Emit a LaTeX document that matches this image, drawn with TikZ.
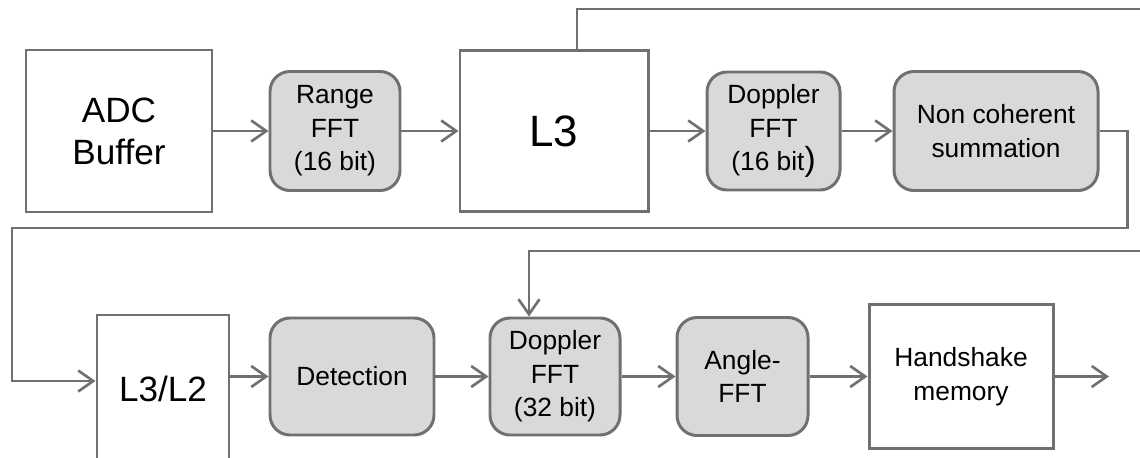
\documentclass[tikz,border=0pt]{standalone}
\usepackage{fontspec}
\setmainfont{Liberation Sans}
\usetikzlibrary{positioning,arrows.meta}

\definecolor{boxgray}{RGB}{217,217,217}
\definecolor{linegray}{RGB}{112,112,112}

\tikzset{
  mem/.style={draw=linegray, line width=1.7pt, fill=white, inner sep=0pt, align=center},
  proc/.style={draw=linegray, line width=1.7pt, fill=boxgray, rounded corners=0.4cm,
    inner sep=0pt, align=center, font=\fontsize{15}{19}\selectfont},
  link/.style={draw=linegray, line width=1.5pt},
}

\begin{document}
\begin{tikzpicture}[>={Straight Barb[length=3mm,width=4.2mm]}]
  \useasboundingbox (0,0) rectangle (22.8,9.14);
  \clip (0,0) rectangle (22.8,9.14);
  % upper chain
  \node[mem, minimum width=3.72cm, minimum height=3.24cm, font=\fontsize{20}{24}\selectfont] (adc) at (2.38,6.52) {ADC\\Buffer};
  \node[proc, minimum width=2.6cm, minimum height=2.38cm] (range) at (6.70,6.52) {Range\\FFT\\(16 bit)};
  \node[mem, minimum width=3.76cm, minimum height=3.22cm, font=\fontsize{25}{28}\selectfont] (l3) at (11.08,6.52) {L3};
  \node[proc, minimum width=2.66cm, minimum height=2.36cm] (dop16) at (15.47,6.52) {Doppler\\FFT\\(16 bit{\fontsize{19}{19}\selectfont)}};
  \node[proc, minimum width=4.08cm, minimum height=2.38cm] (ncs) at (19.92,6.52) {Non coherent\\summation};
  % lower chain
  \node[mem, minimum width=2.64cm, minimum height=2.94cm, font=\fontsize{20}{24}\selectfont] (l3l2) at (3.26,1.37) {L3/L2};
  \node[proc, minimum width=3.28cm, minimum height=2.34cm] (det) at (7.04,1.61) {Detection};
  \node[proc, minimum width=2.6cm, minimum height=2.34cm] (dop32) at (11.10,1.61) {Doppler\\FFT\\(32 bit)};
  \node[proc, minimum width=2.62cm, minimum height=2.36cm] (angle) at (14.85,1.61) {Angle-\\FFT};
  \node[mem, minimum width=3.68cm, minimum height=2.88cm, font=\fontsize{15}{19}\selectfont] (hs) at (19.22,1.61) {Handshake\\memory};

  \coordinate (out) at (22.18,1.61);
  \coordinate (l3out) at (22.9,8.96);
  \coordinate (fbin) at (22.9,4.12);
  \coordinate (loopleft) at (0.24,4.58);

  \draw[link, ->] (adc) edge (range) (range) edge (l3) (l3) edge (dop16) (dop16) edge (ncs);
  \draw[link, ->] (l3l2.east |- det.west) -- (det.west);
  \draw[link, ->] (det) edge (dop32) (dop32) edge (angle) (angle) edge (hs) (hs) edge (out);
  % loops between the rows
  \draw[link, ->] (ncs.east) -- ++(0.56,0) |- (loopleft) |- ([yshift=0.15cm]l3l2.west);
  \draw[link] ([xshift=0.46cm]l3.north) |- (l3out);
  \draw[link, ->] (fbin) -| ([xshift=-0.52cm]dop32.north);
\end{tikzpicture}
\end{document}
